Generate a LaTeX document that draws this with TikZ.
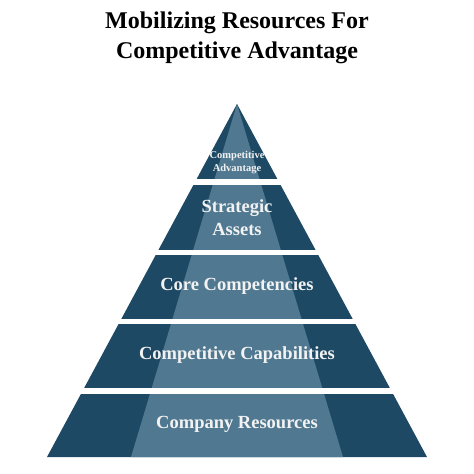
\documentclass[tikz,border=0pt]{standalone}
\usepackage{fontspec}
\setmainfont{Liberation Serif}
\definecolor{pyrdark}{RGB}{29,73,100}
\definecolor{pyrlight}{RGB}{80,121,145}
\definecolor{pyrtext}{RGB}{242,242,242}
\begin{document}
\begin{tikzpicture}[x=1pt,y=-1pt,
  tiertext/.style={text=pyrtext, font=\bfseries\fontsize{18.5}{23}\selectfont, align=center, inner sep=0pt},
  smalltext/.style={text=pyrtext, font=\bfseries\fontsize{10.5}{13}\selectfont, align=center, inner sep=0pt},
  titletext/.style={text=black, font=\bfseries\fontsize{24}{30}\selectfont, align=center, inner sep=0pt},
  gap/.style={fill=white}]
\useasboundingbox[fill=white] (0,0) rectangle (474,474);
\coordinate (apex) at (237,104);
\coordinate (bl) at (47,457);
\coordinate (br) at (427,457);
\coordinate (il) at (131,457);
\coordinate (ir) at (343,457);
\fill[pyrdark] (apex) -- (bl) -- (br) -- cycle;
\fill[pyrlight] (apex) -- (il) -- (ir) -- cycle;
\fill[gap] (0,179) rectangle (474,185);
\fill[gap] (0,249.5) rectangle (474,255);
\fill[gap] (0,318.5) rectangle (474,324);
\fill[gap] (0,388) rectangle (474,394);
\node[titletext] (title) at (237,38) {Mobilizing Resources For\\Competitive Advantage};
\node[smalltext] (t1) at (237,163) {Competitive\\Advantage};
\node[tiertext] (t2) at (237,218) {Strategic\\Assets};
\node[tiertext] (t3) at (237,286) {Core Competencies};
\node[tiertext] (t4) at (237,355) {Competitive Capabilities};
\node[tiertext] (t5) at (237,424) {Company Resources};
\end{tikzpicture}
\end{document}
